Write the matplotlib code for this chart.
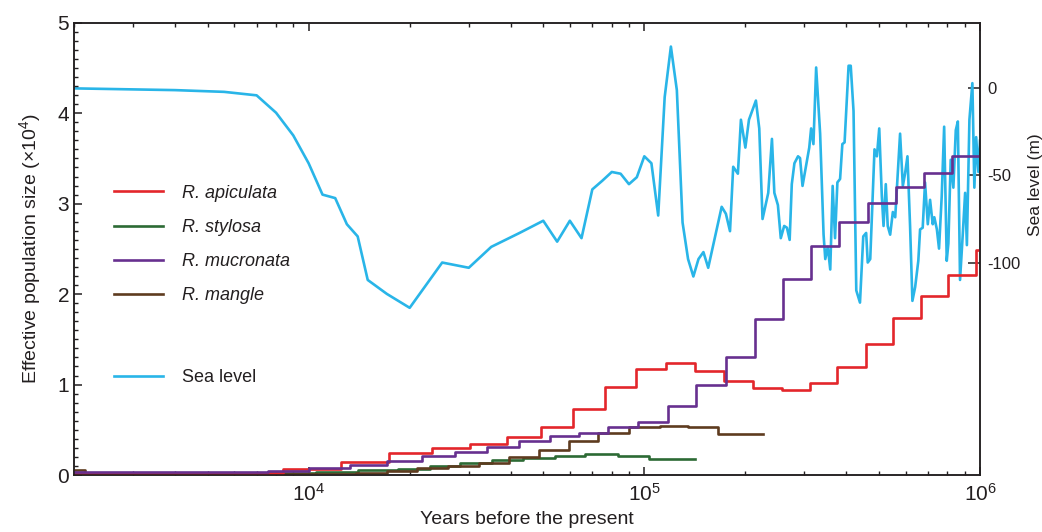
import matplotlib
matplotlib.use('Agg')
import matplotlib.pyplot as plt
from matplotlib.ticker import MultipleLocator, LogLocator, NullFormatter

# PSMC step curves: interval start times (years) and Ne (x10^4); last value repeated at the end
red_t = [2000, 8400, 12500, 17400, 23300, 30300, 38900, 49200, 61200, 76400, 94300, 116000,
         142000, 173000, 211000, 257000, 312000, 376000, 457000, 552000, 668000, 805000, 974000, 1000000]
red_n = [0.02, 0.063, 0.144, 0.240, 0.302, 0.339, 0.417, 0.534, 0.730, 0.970, 1.168, 1.235,
         1.153, 1.034, 0.958, 0.940, 1.014, 1.191, 1.445, 1.732, 1.979, 2.211, 2.487, 2.487]

green_t = [2000, 10500, 14000, 18500, 23000, 28300, 35100, 43600, 54200, 66600, 83700, 103000, 142000]
green_n = [0.017, 0.030, 0.050, 0.069, 0.096, 0.129, 0.166, 0.191, 0.213, 0.229, 0.213, 0.174, 0.174]

purple_t = [2000, 7560, 10000, 13300, 17100, 21700, 27300, 34000, 42200, 52200, 64100, 78200, 96000,
            118000, 143000, 175000, 213000, 259000, 314000, 381000, 463000, 563000, 682000, 828000, 1000000]
purple_n = [0.028, 0.044, 0.077, 0.116, 0.160, 0.210, 0.258, 0.313, 0.376, 0.431, 0.464, 0.527, 0.589,
            0.763, 0.995, 1.310, 1.721, 2.167, 2.532, 2.797, 3.004, 3.187, 3.338, 3.526, 3.526]

brown_t = [2000, 2150, 13800, 17100, 21000, 26100, 32100, 39400, 48400, 59800, 73000, 90300,
           111000, 135000, 166000, 226000]
brown_n = [0.05, 0.01, 0.025, 0.048, 0.074, 0.099, 0.136, 0.196, 0.276, 0.376, 0.461, 0.527,
           0.542, 0.531, 0.453, 0.453]

# sea level curve (m)
sea_years = [2000, 4000, 5600, 7000, 8000, 9000, 10000, 11000, 12000, 13000,
             14000, 15000, 17100, 20000, 25000, 30000, 35000, 42500, 50000, 55000,
             60000, 65000, 70000, 75000, 80000, 85000, 90000, 95000, 100000, 105000,
             110000, 115000, 120000, 125000, 130000, 135000, 140000, 145000, 150000, 155000,
             170000, 175000, 180000, 184000, 190000, 194000, 200000, 205000, 215000, 220000,
             225000, 234000, 240000, 244000, 250000, 255000, 261000, 266000, 271000, 275000,
             280000, 287000, 291000, 296000, 303000, 310000, 314000, 319000, 325000, 334000,
             342000, 346000, 352000, 358000, 364000, 370000, 376000, 383000, 389000, 395000,
             406000, 412000, 420000, 428000, 439000, 449000, 458000, 463000, 471000, 485000,
             493000, 501000, 510000, 516000, 524000, 531000, 540000, 550000, 559000, 578000,
             589000, 598000, 608000, 619000, 629000, 641000, 655000, 663000, 675000, 686000,
             699000, 710000, 723000, 731000, 744000, 755000, 769000, 782000, 796000, 805000,
             818000, 833000, 847000, 859000, 872000, 889000, 903000, 914000, 930000, 949000,
             962000, 974000, 989000, 1000000]
sea_level = [0, -1, -2, -4, -14, -27, -43, -61, -63, -78,
             -85, -110, -118, -126, -100, -103, -91, -83, -76, -88,
             -76, -86, -58, -53, -48, -49, -55, -51, -39, -43,
             -73, -5, 24, -1, -77, -98, -108, -98, -94, -103,
             -68, -72, -82, -45, -49, -18, -34, -18, -7, -23,
             -75, -60, -29, -60, -67, -86, -79, -80, -87, -55,
             -43, -39, -40, -56, -45, -34, -23, -32, 12, -26,
             -84, -98, -91, -104, -56, -86, -54, -52, -32, -31,
             13, 13, -13, -116, -123, -85, -83, -100, -98, -35,
             -39, -23, -62, -79, -55, -79, -84, -71, -74, -26,
             -56, -49, -39, -79, -122, -114, -99, -81, -80, -54,
             -78, -64, -78, -74, -81, -92, -62, -22, -99, -89,
             -41, -57, -24, -19, -110, -83, -60, -90, -18, 3,
             -57, -28, -48, -30]

species = ['R. apiculata', 'R. stylosa', 'R. mucronata', 'R. mangle']
sea_ticks = [0, -50, -100]

plt.rcParams['font.family'] = 'Liberation Sans'
plt.rcParams['mathtext.fontset'] = 'custom'
plt.rcParams['mathtext.rm'] = 'Liberation Sans'
plt.rcParams['mathtext.it'] = 'Liberation Sans:italic'
plt.rcParams['axes.unicode_minus'] = False

c_red, c_green, c_purple, c_brown, c_sea = '#e3262b', '#2c6a34', '#67308f', '#5e3b1f', '#29b5e8'
lw = 1.9
axc = '#231f20'

fig = plt.figure(figsize=(10.42, 5.32), dpi=100)
ax = fig.add_axes([0.071, 0.1071, 0.8695, 0.8502])
ax2 = ax.twinx()

sea, = ax2.plot(sea_years, sea_level, color=c_sea, lw=lw)

lg, = ax.step(green_t, green_n, where='post', color=c_green, lw=lw)
lb, = ax.step(brown_t, brown_n, where='post', color=c_brown, lw=lw)
lr, = ax.step(red_t, red_n, where='post', color=c_red, lw=lw)
lp, = ax.step(purple_t, purple_n, where='post', color=c_purple, lw=lw)

ax.set_zorder(ax2.get_zorder() + 1)
ax.patch.set_visible(False)

ax.set_xscale('log')
ax.set_xlim(2000, 1e6)
ax.set_ylim(0, 5)
ax.yaxis.set_minor_locator(MultipleLocator(0.1))
ax.xaxis.set_major_locator(LogLocator(base=10))
ax.xaxis.set_minor_locator(LogLocator(base=10, subs=range(2, 10)))
ax.xaxis.set_minor_formatter(NullFormatter())
ax.tick_params(axis='both', which='major', direction='in', length=6, width=1.1,
               labelsize=15, colors=axc, top=True, right=False)
ax.tick_params(axis='both', which='minor', direction='in', length=3.2, width=1.0,
               top=True, right=False, colors=axc)
ax.tick_params(axis='x', which='major', pad=6)
ax.set_xlabel('Years before the present', fontsize=14, color=axc, labelpad=4)
ax.set_ylabel('Effective population size (×10$^4$)', fontsize=14, color=axc, labelpad=10)

ax2.set_ylim(-222, 37.7)
ax2.set_yticks(sea_ticks)
ax2.set_yticklabels([str(v) for v in sea_ticks])
ax2.tick_params(axis='y', direction='in', length=9, width=1.1, labelsize=12, pad=5, colors=axc)
ax2.set_ylabel('Sea level (m)', fontsize=12.5, color=axc)
ax2.yaxis.set_label_coords(1.053, 0.641)

for a in (ax, ax2):
    for s in a.spines.values():
        s.set_linewidth(1.1)
        s.set_color(axc)

leg1 = ax.legend([lr, lg, lp, lb], species, loc='center left',
                 bbox_to_anchor=(0.1027, 0.5404), bbox_transform=fig.transFigure,
                 frameon=False, prop={'style': 'italic', 'size': 13},
                 handlelength=2.7, handletextpad=1.05, labelspacing=0.95, borderaxespad=0)
for t in leg1.get_texts():
    t.set_color(axc)
ax.add_artist(leg1)
leg2 = ax.legend([sea], ['Sea level'], loc='center left',
                 bbox_to_anchor=(0.1027, 0.2895), bbox_transform=fig.transFigure,
                 frameon=False, prop={'size': 13},
                 handlelength=2.7, handletextpad=1.05, borderaxespad=0)
for t in leg2.get_texts():
    t.set_color(axc)

fig.savefig('out.png', dpi=100)
